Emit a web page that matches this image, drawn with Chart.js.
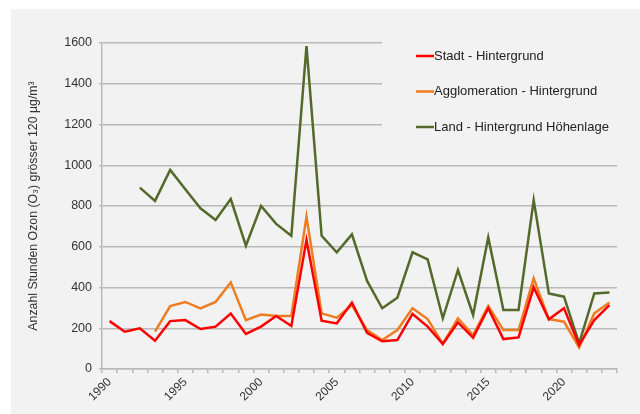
<!DOCTYPE html>
<html>
<head>
<meta charset="utf-8">
<script src="https://cdn.jsdelivr.net/npm/chart.js@4.4.1/dist/chart.umd.min.js"></script>
<style>
  html, body { margin: 0; padding: 0; background: #ffffff; }
  #wrap { width: 640px; height: 414px; position: relative; }
</style>
</head>
<body>
<div id="wrap"><canvas id="ozonChart" width="640" height="414"></canvas></div>
<script>
const YEARS = [
    '1990', '1991', '1992', '1993', '1994', '1995', '1996', '1997', '1998', '1999',
    '2000', '2001', '2002', '2003', '2004', '2005', '2006', '2007', '2008', '2009',
    '2010', '2011', '2012', '2013', '2014', '2015', '2016', '2017', '2018', '2019',
    '2020', '2021', '2022', '2023'
];

const STADT = [
    235, 183, 200, 139, 235, 240, 196, 208, 272, 172,
    208, 260, 211, 633, 237, 224, 326, 178, 136, 142,
    270, 208, 123, 229, 154, 298, 147, 155, 401, 244,
    298, 118, 240, 314
];

const AGGLOMERATION = [
    null, null, null, 183, 309, 329, 298, 329, 425, 240,
    267, 260, 260, 748, 273, 252, 314, 191, 142, 191,
    298, 245, 123, 249, 167, 309, 191, 191, 445, 245,
    232, 106, 273, 326
];

const LAND = [
    null, null, 890, 825, 977, 882, 789, 731, 834, 605,
    800, 712, 654, 1585, 654, 573, 661, 432, 298, 350,
    573, 538, 249, 486, 265, 646, 290, 290, 829, 371,
    355, 126, 371, 376
];

const SERIES_LABELS = [
    'Stadt - Hintergrund',
    'Agglomeration - Hintergrund',
    'Land - Hintergrund Höhenlage'
];

const SERIES_COLORS = ['#ff0000', '#ee7d22', '#546a2b'];

const PANEL_COLOR = '#f2f2f2';
const TEXT_COLOR  = '#333333';
const GRID_COLOR  = '#b9b9b9';
const FONT_FAMILY = '"Liberation Sans", Arial, sans-serif';

// grey panel behind the whole chart
const panelPlugin = {
    id: 'panel',
    beforeDraw(chart) {
        const ctx = chart.ctx;
        ctx.save();
        ctx.fillStyle = PANEL_COLOR;
        ctx.fillRect(11, 9, chart.width - 11, chart.height - 9);
        ctx.restore();
    }
};

// legend sits inside the plot, on a box that hides the upper gridlines
const boxLegendPlugin = {
    id: 'boxLegend',
    beforeDatasetsDraw(chart) {
        const ctx = chart.ctx;
        ctx.save();
        ctx.fillStyle = PANEL_COLOR;
        ctx.fillRect(382, 36, chart.chartArea.right - 382 + 2, 112);
        ctx.restore();
    },
    afterDraw(chart) {
        const ctx = chart.ctx;
        ctx.save();
        ctx.font = '13px ' + FONT_FAMILY;
        ctx.textBaseline = 'middle';
        ctx.textAlign = 'left';
        chart.data.datasets.forEach((ds, i) => {
            const y = 56 + i * 35.5;
            ctx.strokeStyle = ds.borderColor;
            ctx.lineWidth = 2.5;
            ctx.beginPath();
            ctx.moveTo(416, y);
            ctx.lineTo(434, y);
            ctx.stroke();
            ctx.fillStyle = '#222222';
            ctx.fillText(ds.label, 434, y);
        });
        ctx.restore();
    }
};

function makeDataset(label, data, color) {
    return {
        label: label,
        data: data,
        borderColor: color,
        backgroundColor: color,
        borderWidth: 2.5,
        pointRadius: 0,
        pointHoverRadius: 0,
        tension: 0,
        fill: false,
        spanGaps: false
    };
}

function initChart() {
    const ctx = document.getElementById('ozonChart');

    new Chart(ctx, {
        type: 'line',
        plugins: [panelPlugin, boxLegendPlugin],
        data: {
            labels: YEARS,
            datasets: [
                makeDataset(SERIES_LABELS[0], STADT, SERIES_COLORS[0]),
                makeDataset(SERIES_LABELS[1], AGGLOMERATION, SERIES_COLORS[1]),
                makeDataset(SERIES_LABELS[2], LAND, SERIES_COLORS[2])
            ]
        },
        options: {
            responsive: false,
            animation: false,
            layout: {
                padding: { left: 0, top: 43, right: 23, bottom: 0 }
            },
            plugins: {
                legend: { display: false },
                tooltip: { enabled: false }
            },
            scales: {
                x: {
                    offset: true,
                    grid: {
                        display: true,
                        drawOnChartArea: false,
                        offset: true,
                        tickLength: 4,
                        color: GRID_COLOR,
                        lineWidth: 1.5
                    },
                    border: { color: GRID_COLOR, width: 1.5 },
                    ticks: {
                        autoSkip: false,
                        maxRotation: 45,
                        minRotation: 45,
                        padding: 2,
                        color: TEXT_COLOR,
                        font: { family: FONT_FAMILY, size: 12 },
                        callback: function (value) {
                            const year = this.getLabelForValue(value);
                            return Number(year) % 5 === 0 ? year : '';
                        }
                    },
                    afterFit: function (scale) {
                        scale.height = 45;
                    }
                },
                y: {
                    min: 0,
                    max: 1600,
                    grid: {
                        color: GRID_COLOR,
                        lineWidth: 1.5,
                        tickLength: 3
                    },
                    border: { color: GRID_COLOR, width: 1.5 },
                    ticks: {
                        stepSize: 200,
                        padding: 7,
                        color: TEXT_COLOR,
                        font: { family: FONT_FAMILY, size: 12.5 },
                        callback: (value) => String(value)
                    },
                    title: {
                        display: true,
                        text: 'Anzahl Stunden Ozon (O₃) grösser 120 µg/m³',
                        color: TEXT_COLOR,
                        font: { family: FONT_FAMILY, size: 12.3 },
                        padding: { top: 26, bottom: 0 }
                    },
                    afterFit: function (scale) {
                        scale.width = 102;
                    }
                }
            }
        }
    });
}

initChart();
</script>
</body>
</html>
